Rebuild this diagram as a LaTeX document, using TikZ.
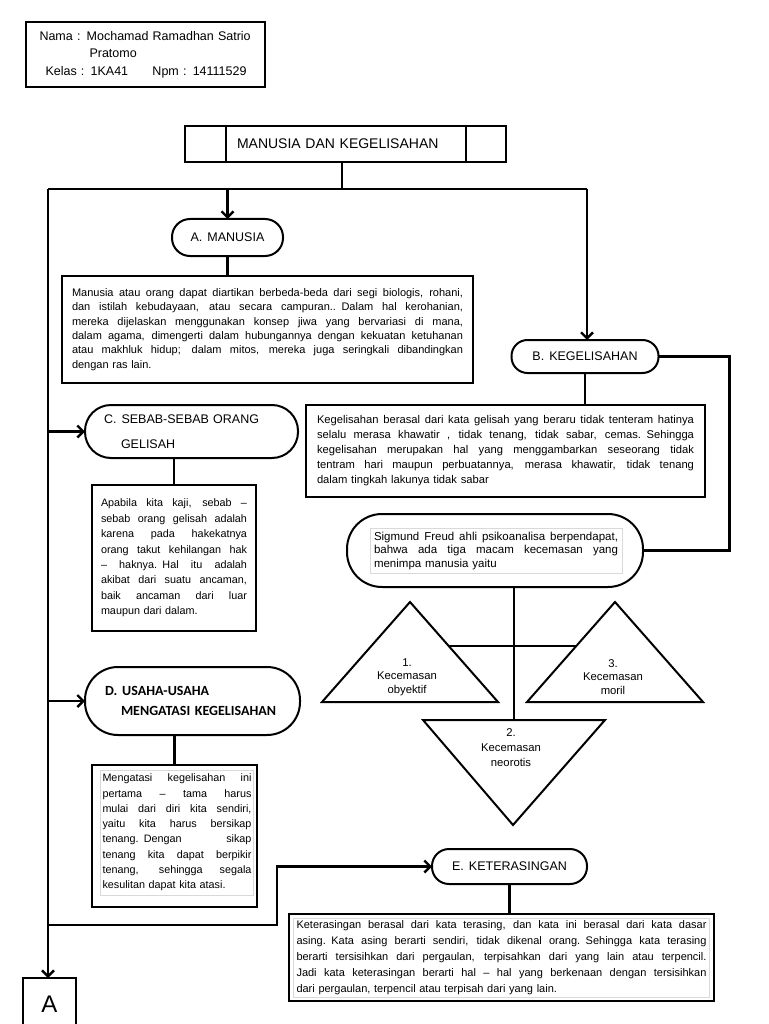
\documentclass[tikz,border=0pt]{standalone}
\usepackage{fontspec}
\setmainfont{Liberation Sans}
\newfontfamily\calibri{Carlito}
\usetikzlibrary{arrows.meta,positioning}

% one justified line of a text box
\newlength{\jlw}
\newcommand{\jl}[1]{\makebox[\jlw][s]{\spaceskip=.278em plus 2em minus .1em #1}\\}

\begin{document}
\begin{tikzpicture}[x=1pt, y=-1pt,
        conn/.style={line width=2.4pt},
        arr/.style={line width=2.4pt, -{Straight Barb[length=6pt, width=12pt, line width=2.4pt]}},
        box/.style={draw, line width=2pt, inner sep=0pt, outer sep=0pt},
        pill/.style={draw, line width=2pt, inner sep=0pt, outer sep=0pt, font=\fontsize{12.5}{15}\selectfont},
        body/.style={align=left, inner sep=0pt, text width=#1,
            execute at begin node={\setlength{\jlw}{#1}}, font=\fontsize{11}{14.3}\selectfont},
        frame/.style={draw=black!15, line width=0.5pt},
        tri/.style={draw, line width=2pt, line join=miter},
        trilabel/.style={align=center, font=\fontsize{11.3}{13.5}\selectfont}
    ]
    \useasboundingbox (0,0) rectangle (768,1024);

    % --- Identitas ---
    \node[box, line width=1.6pt, minimum width=239pt, minimum height=65pt, text width=212pt,
          align=left, font=\fontsize{12.5}{17.5}\selectfont] (nama) at (145.5,54.5)
        {Nama : Mochamad Ramadhan Satrio\\
         \hspace*{50pt}Pratomo\\
         \hspace*{6pt}\makebox[107pt][l]{Kelas : 1KA41}Npm : 14111529};

    % --- Judul ---
    \node[box, minimum width=240pt, minimum height=36pt, text width=218pt, align=left,
          font=\fontsize{14}{16}\selectfont] (judul) at (346,144) {MANUSIA DAN KEGELISAHAN};
    \node[box, minimum width=41pt, minimum height=36pt, left=0pt of judul] (judulL) {};
    \node[box, minimum width=40pt, minimum height=36pt, right=0pt of judul] (judulR) {};

    % rel atas
    \coordinate (bus)  at (342,189);
    \coordinate (busL) at (48,189);
    \coordinate (busR) at (587,189);

    % --- A. Manusia ---
    \node[pill, rounded corners=18pt, minimum width=111pt, minimum height=37pt] (manusia) at (227.5,237.5)
        {A.\hspace{5pt}MANUSIA};
    \node[box, body=391pt, minimum width=411pt, minimum height=107pt] (mbox) at (267.5,329.5)
        {\jl{Manusia atau orang dapat diartikan berbeda-beda dari segi biologis, rohani,}
         \jl{dan istilah kebudayaan, atau secara campuran.. Dalam hal kerohanian,}
         \jl{mereka dijelaskan menggunakan konsep jiwa yang bervariasi di mana,}
         \jl{dalam agama, dimengerti dalam hubungannya dengan kekuatan ketuhanan}
         \jl{atau makhluk hidup; dalam mitos, mereka juga seringkali dibandingkan}
         dengan ras lain.};

    % --- B. Kegelisahan ---
    \node[pill, rounded corners=16pt, minimum width=147pt, minimum height=33pt] (kegel) at (585,356.5)
        {B.\hspace{5pt}KEGELISAHAN};
    \node[box, body=377pt, minimum width=399pt, minimum height=92pt,
          font=\fontsize{11.2}{15}\selectfont] (kbox) at (505.5,451)
        {\jl{Kegelisahan berasal dari kata gelisah yang beraru tidak tenteram hatinya}
         \jl{selalu merasa khawatir , tidak tenang, tidak sabar, cemas. Sehingga}
         \jl{kegelisahan merupakan hal yang menggambarkan seseorang tidak}
         \jl{tentram hari maupun perbuatannya, merasa khawatir, tidak tenang}
         dalam tingkah lakunya tidak sabar};

    % --- C. Sebab-sebab orang gelisah ---
    \node[pill, rounded corners=26pt, minimum width=213pt, minimum height=53pt, text width=175pt,
          align=left, font=\fontsize{12.5}{25}\selectfont] (sebab) at (191.5,431.5)
        {C.\hspace{5pt}SEBAB-SEBAB ORANG\\\hspace*{17pt}GELISAH};
    \node[box, body=146pt, minimum width=164pt, minimum height=146pt,
          font=\fontsize{10.8}{15.4}\selectfont] (sbox) at (174,558)
        {\jl{Apabila kita kaji, sebab –}
         \jl{sebab orang gelisah adalah}
         \jl{karena pada hakekatnya}
         \jl{orang takut kehilangan hak}
         \jl{– haknya. Hal itu adalah}
         \jl{akibat dari suatu ancaman,}
         \jl{baik ancaman dari luar}
         maupun dari dalam.};

    % --- Sigmund Freud ---
    \node[pill, rounded corners=35pt, minimum width=296pt, minimum height=73pt] (freud) at (495,550.5) {};
    \node[frame, body=244pt, inner sep=4pt, font=\fontsize{11.5}{13.2}\selectfont] (freudtxt) at (496,551)
        {\jl{Sigmund Freud ahli psikoanalisa berpendapat,}
         \jl{bahwa ada tiga macam kecemasan yang}
         menimpa manusia yaitu};

    % tiga kecemasan
    \draw[tri] (410,602) -- coordinate[pos=.44] (t1r) (498,702) -- (322,702) -- cycle;
    \draw[tri] (615,602) -- coordinate[pos=.44] (t3l) (527,702) -- (703,702) -- cycle;
    \draw[tri] (423,720) -- coordinate[midway] (t2top) (605,720) -- (513,825) -- cycle;
    \node[trilabel] (obyektif) at (407,677) {1.\\Kecemasan\\obyektif};
    \node[trilabel] (moril) at (613,677) {3.\\Kecemasan\\moril};
    \node[trilabel, font=\fontsize{11.3}{15}\selectfont] (neorotis) at (511,748) {2.\\Kecemasan\\neorotis};

    % --- D. Usaha-usaha ---
    \node[pill, rounded corners=33pt, minimum width=215pt, minimum height=68pt, text width=175pt,
          align=left, font=\calibri\bfseries\fontsize{14}{20}\selectfont] (usaha) at (192.5,701)
        {D.\hspace{5pt}USAHA-USAHA\\\hspace*{16pt}MENGATASI KEGELISAHAN};
    \node[box, minimum width=165pt, minimum height=142pt] (ubox) at (174.5,836) {};
    \node[frame, body=149pt, inner xsep=2pt, minimum height=125pt,
          font=\fontsize{10.8}{15.3}\selectfont] (uboxtxt) at (177,832.5)
        {\jl{Mengatasi kegelisahan ini}
         \jl{pertama – tama harus}
         \jl{mulai dari diri kita sendiri,}
         \jl{yaitu kita harus bersikap}
         \jl{tenang. Dengan sikap}
         \jl{tenang kita dapat berpikir}
         \jl{tenang, sehingga segala}
         kesulitan dapat kita atasi.};

    % --- E. Keterasingan ---
    \node[pill, rounded corners=17pt, minimum width=155pt, minimum height=35pt] (keter) at (509.5,866.5)
        {E.\hspace{5pt}KETERASINGAN};
    \node[box, minimum width=425pt, minimum height=87pt] (ebox) at (501.5,957.5) {};
    \node[frame, body=410pt, inner xsep=3pt, minimum height=79pt,
          font=\fontsize{11}{16}\selectfont] (eboxtxt) at (501.5,957.5)
        {\jl{Keterasingan berasal dari kata terasing, dan kata ini berasal dari kata dasar}
         \jl{asing. Kata asing berarti sendiri, tidak dikenal orang. Sehingga kata terasing}
         \jl{berarti tersisihkan dari pergaulan, terpisahkan dari yang lain atau terpencil.}
         \jl{Jadi kata keterasingan berarti hal – hal yang berkenaan dengan tersisihkan}
         dari pergaulan, terpencil atau terpisah dari yang lain.};

    % --- Sambungan A ---
    \node[box, minimum width=53pt, minimum height=52pt, font=\fontsize{24}{28}\selectfont] (hubA) at (49.5,1004) {A};

    % garis penghubung
    \draw[conn] (judul.south -| bus) -- (bus);
    \draw[conn] (busL) -- (busR);
    \draw[arr] (manusia.north |- bus) -- (manusia.north);
    \draw[conn] (manusia.south) -- (manusia.south |- mbox.north);
    \draw[arr] (busR) -- (busR |- kegel.north);
    \draw[conn] (kegel.south) -- (kegel.south |- kbox.north);
    \draw[conn] (kegel.east) -- ++(71,0) |- (freud.east);
    \draw[conn] (t2top |- freud.south) -- (t2top);
    \draw[conn] (t1r) -- (t3l);
    \draw[arr] (busL) -- (busL |- hubA.north);
    \draw[arr] (busL |- sebab.west) -- (sebab.west);
    \draw[conn] (sbox.north |- sebab.south) -- (sbox.north);
    \draw[arr] (busL |- usaha.west) -- (usaha.west);
    \draw[conn] (ubox.north |- usaha.south) -- (ubox.north);
    \coordinate (belok) at (277,925);
    \draw[arr] (busL |- belok) -- (belok) |- (keter.west);
    \draw[conn] (keter.south) -- (keter.south |- ebox.north);

\end{tikzpicture}
\end{document}
